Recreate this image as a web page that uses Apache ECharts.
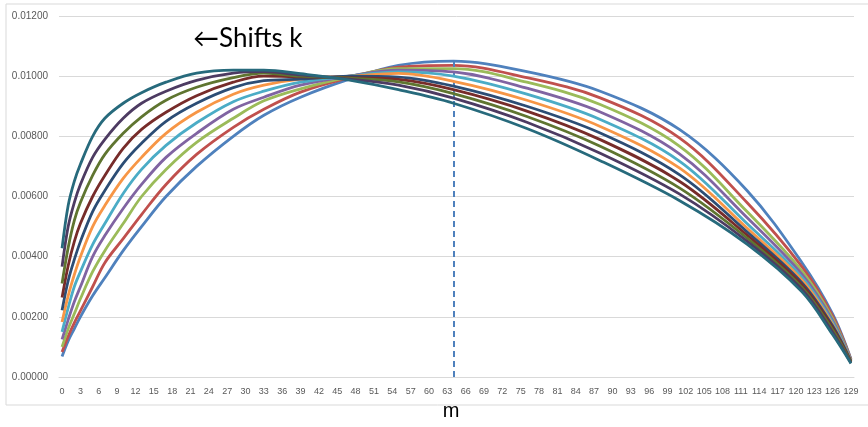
<!DOCTYPE html>
<html>
<head>
<meta charset="utf-8">
<script src="https://cdn.jsdelivr.net/npm/echarts@6/dist/echarts.min.js"></script>
<style>
html,body{margin:0;padding:0;background:#fff;}
#chart{width:868px;height:427px;}
</style>
</head>
<body>
<div id="chart"></div>
<script>
// category labels m = 0..129
var categories = [];
for (var i = 0; i <= 129; i++) categories.push(String(i));

var mSamples = [0,1,2,3,5,7,10,13,17,22,28,33,39,47,55,64,76,88,101,112,121,126,129];

var sBlue    = [0.00068,0.0012,0.0016,0.0020,0.0027,0.0033,0.0042,0.0050,0.0060,0.0070,0.0080,0.0087,0.0093,0.0099,0.01036,0.0105,0.01015,0.0095,0.00822,0.0062,0.0038,0.0021,0.0006];
var sRed     = [0.00083,0.00135,0.0018,0.0022,0.0030,0.0038,0.0046,0.0054,0.0064,0.0074,0.0083,0.0089,0.00947,0.00995,0.0103,0.01036,0.00995,0.00928,0.00794,0.0058,0.00366,0.00203,0.00058];
var sGreen   = [0.0010,0.0016,0.0021,0.0026,0.0035,0.0042,0.0051,0.0060,0.0069,0.0078,0.0086,0.00918,0.00958,0.00998,0.01025,0.01025,0.0098,0.00906,0.00767,0.0055,0.00352,0.00195,0.00056];
var sPurple  = [0.00125,0.0019,0.0025,0.0030,0.0040,0.0047,0.0056,0.0064,0.0073,0.0081,0.0089,0.0093,0.0097,0.0100,0.0102,0.01014,0.0096,0.00881,0.00741,0.0053,0.00341,0.00188,0.00055];
var sAqua    = [0.0015,0.0023,0.0030,0.0035,0.0044,0.0051,0.0061,0.0069,0.0077,0.00845,0.00915,0.0095,0.0098,0.0100,0.01014,0.0100,0.0094,0.00856,0.00717,0.0051,0.00331,0.00181,0.00054];
var sOrange  = [0.00183,0.0027,0.0034,0.0040,0.0050,0.0057,0.0066,0.0073,0.0081,0.0088,0.0094,0.0097,0.0099,0.0100,0.01009,0.00983,0.0092,0.00833,0.00694,0.00495,0.00322,0.00175,0.00053];
var sDBlue   = [0.00222,0.0032,0.0039,0.0045,0.0055,0.0062,0.0071,0.00777,0.0085,0.0091,0.00962,0.00985,0.0099,0.0100,0.00997,0.00967,0.0090,0.00811,0.00672,0.00483,0.00313,0.0017,0.00052];
var sDRed    = [0.00264,0.0037,0.0045,0.0051,0.0060,0.0067,0.0076,0.00823,0.0088,0.00935,0.0098,0.0100,0.00998,0.00995,0.00989,0.00955,0.00884,0.00789,0.0065,0.00472,0.00306,0.00164,0.0005];
var sDGreen  = [0.00311,0.0043,0.0052,0.0058,0.0067,0.0074,0.0081,0.00865,0.0092,0.00963,0.00995,0.0101,0.0100,0.00993,0.00981,0.00942,0.00866,0.00767,0.00628,0.00462,0.00298,0.00157,0.00049];
var sDPurple = [0.00367,0.0050,0.0058,0.0064,0.0073,0.0079,0.0086,0.0091,0.0095,0.00986,0.0101,0.01015,0.01004,0.0099,0.0097,0.00927,0.00847,0.00744,0.00608,0.00452,0.00291,0.00149,0.00047];
var sTeal    = [0.00428,0.0057,0.0065,0.00707,0.0080,0.0086,0.0091,0.00945,0.0098,0.0101,0.0102,0.0102,0.01008,0.00987,0.00955,0.0091,0.00826,0.00719,0.00586,0.00442,0.00283,0.00141,0.00045];

var seriesValues = [sBlue, sRed, sGreen, sPurple, sAqua, sOrange, sDBlue, sDRed, sDGreen, sDPurple, sTeal];
var seriesColors = ['#4F81BD','#C0504D','#9BBB59','#8064A2','#4BACC6','#F79646','#2C4D75','#772C2A','#5F7530','#4D3B62','#276A7C'];

// dashed marker: m and the top value it reaches
var markerM = ['64'];
var markerRange = [0, 0.0105];

// y tick range
var yMin = 0, yMax = 0.012, yStep = 0.002;

var series = seriesValues.map(function (vals, idx) {
  var s = {
    type: 'line',
    data: mSamples.map(function (m, j) { return [m, vals[j]]; }),
    smooth: 0.35,
    showSymbol: false,
    symbol: 'none',
    lineStyle: { width: 2.8, color: seriesColors[idx] },
    itemStyle: { color: seriesColors[idx] },
    z: 2 + idx
  };
  if (idx === 0) {
    s.markLine = {
      silent: true,
      symbol: ['none','none'],
      label: { show: false },
      lineStyle: { type: [6,4], color: '#4F81BD', width: 2 },
      data: [[{ coord: [markerM[0], markerRange[0]] }, { coord: [markerM[0], markerRange[1]] }]]
    };
  }
  return s;
});

var chart = echarts.init(document.getElementById('chart'), null, { renderer: 'canvas' });
chart.setOption({
  animation: false,
  backgroundColor: '#ffffff',
  grid: { left: 59, right: 14, top: 16, bottom: 50, containLabel: false },
  xAxis: {
    type: 'category',
    data: categories,
    boundaryGap: true,
    axisLine: { show: true, lineStyle: { color: '#d9d9d9', width: 1 } },
    axisTick: { show: false },
    axisLabel: { interval: 2, color: '#595959', fontSize: 9, fontFamily: 'Liberation Sans', margin: 10 },
    splitLine: { show: false }
  },
  yAxis: {
    type: 'value',
    min: yMin, max: yMax, interval: yStep,
    axisLine: { show: false },
    axisTick: { show: false },
    axisLabel: {
      color: '#595959', fontSize: 10, fontFamily: 'Liberation Sans', margin: 11,
      formatter: function (v) { return v.toFixed(5); }
    },
    splitLine: { show: true, lineStyle: { color: '#d9d9d9', width: 1 } }
  },
  graphic: [
    { type: 'rect', shape: { x: 6, y: 4, width: 870, height: 401 }, style: { fill: 'none', stroke: '#d9d9d9', lineWidth: 1 }, silent: true, z: -1 },
    { type: 'text', x: 193, y: 39, style: { text: '\u2190Shifts k', fontSize: 26, fontFamily: 'Lato', fill: '#000000', verticalAlign: 'middle', align: 'left' } },
    { type: 'text', x: 451, y: 411, style: { text: 'm', fontSize: 20, fontFamily: 'Liberation Sans', fill: '#000000', verticalAlign: 'middle', align: 'center' } }
  ],
  series: series
});
</script>
</body>
</html>
